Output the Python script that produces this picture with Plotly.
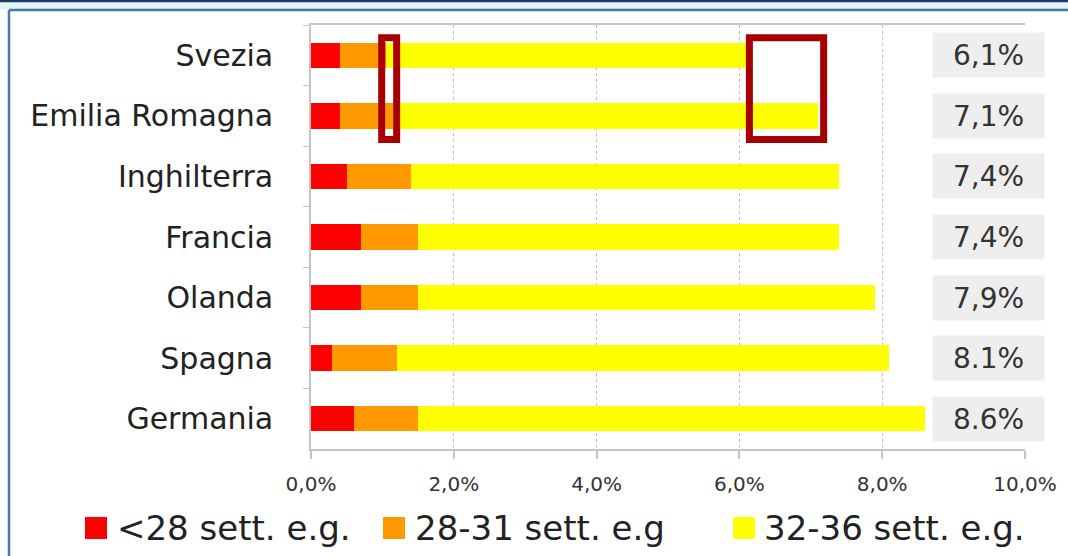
import plotly.graph_objects as go

# Preterm births by gestational age band (% of live births)
countries = ["Svezia", "Emilia Romagna", "Inghilterra", "Francia", "Olanda", "Spagna", "Germania"]
under_28 = [0.4, 0.4, 0.5, 0.7, 0.7, 0.3, 0.6]
weeks_28_31 = [0.65, 0.75, 0.9, 0.8, 0.8, 0.9, 0.9]
totals = [6.1, 7.1, 7.4, 7.4, 7.9, 8.1, 8.6]
total_labels = ["6,1%", "7,1%", "7,4%", "7,4%", "7,9%", "8.1%", "8.6%"]
weeks_32_36 = [round(t - a - b, 2) for t, a, b in zip(totals, under_28, weeks_28_31)]

series_names = ["<28 sett. e.g.", "28-31 sett. e.g", "32-36 sett. e.g."]
series_colors = ["#ff0000", "#ff9900", "#ffff00"]
series_values = [under_28, weeks_28_31, weeks_32_36]

x_tickvals = [0, 2, 4, 6, 8, 10]
x_ticktext = ["0,0%", "2,0%", "4,0%", "6,0%", "8,0%", "10,0%"]

FONT = "DejaVu Sans"
W, H = 1068, 556
PLOT_L, PLOT_R, PLOT_T, PLOT_B = 311, 1025, 25, 449


def px_x(p):
    return (p - PLOT_L) / (PLOT_R - PLOT_L)


def px_y(p):
    return (PLOT_B - p) / (PLOT_B - PLOT_T)


fig = go.Figure()
for name, color, vals in zip(series_names, series_colors, series_values):
    fig.add_trace(go.Bar(
        y=countries, x=vals, name=name, orientation="h",
        marker=dict(color=color, line=dict(width=0)),
        width=0.42, showlegend=False, hoverinfo="x+y",
    ))

shapes = []
annotations = []

# page frame: dark top rule, pale strip and blue inner border
shapes.append(dict(type="rect", xref="paper", yref="paper",
                   x0=px_x(0), x1=px_x(W), y0=px_y(2.5), y1=px_y(0),
                   fillcolor="#1d3b63", line=dict(width=0), layer="above"))
shapes.append(dict(type="rect", xref="paper", yref="paper",
                   x0=px_x(0), x1=px_x(W), y0=px_y(9), y1=px_y(2.5),
                   fillcolor="#e2f4f9", line=dict(width=0), layer="above"))
shapes.append(dict(type="line", xref="paper", yref="paper",
                   x0=px_x(9), x1=px_x(W), y0=px_y(10), y1=px_y(10),
                   line=dict(color="#4a78a6", width=2.5), layer="above"))
shapes.append(dict(type="line", xref="paper", yref="paper",
                   x0=px_x(9), x1=px_x(9), y0=px_y(10), y1=px_y(H),
                   line=dict(color="#4a78a6", width=2.5), layer="above"))

# highlight boxes around Svezia / Emilia Romagna
box_line = dict(color="#a80000", width=7)
shapes.append(dict(type="rect", xref="x", yref="y", x0=0.99, x1=1.2,
                   y0=-0.29, y1=1.39, line=box_line, layer="above"))
shapes.append(dict(type="rect", xref="x", yref="y", x0=6.14, x1=7.18,
                   y0=-0.29, y1=1.39, line=box_line, layer="above"))

# total labels on grey tiles
for c, lab in zip(countries, total_labels):
    annotations.append(dict(
        x=px_x(988), xref="paper", y=c, yref="y", text=lab, showarrow=False,
        xanchor="center", yanchor="middle",
        font=dict(family=FONT, size=28, color="#333333"),
        bgcolor="#eeeeee", width=111, height=44, borderpad=0,
    ))

# legend row
legend_square_x = [85, 383, 733]
legend_text_x = [115, 413, 762]
legend_cy = 528
for name, color, sx, tx in zip(series_names, series_colors, legend_square_x, legend_text_x):
    shapes.append(dict(type="rect", xref="paper", yref="paper",
                       x0=px_x(sx), x1=px_x(sx + 22),
                       y0=px_y(legend_cy + 11), y1=px_y(legend_cy - 11),
                       fillcolor=color, line=dict(width=0)))
    annotations.append(dict(
        x=px_x(tx), xref="paper", y=px_y(legend_cy), yref="paper", text=name,
        showarrow=False, xanchor="left", yanchor="middle",
        font=dict(family=FONT, size=34, color="#222222"),
    ))

fig.update_layout(
    width=W, height=H,
    margin=dict(l=PLOT_L, r=W - PLOT_R, t=PLOT_T, b=H - PLOT_B, pad=0),
    barmode="stack", bargap=0.58,
    paper_bgcolor="white", plot_bgcolor="white",
    shapes=shapes, annotations=annotations,
    showlegend=False,
    font=dict(family=FONT, color="#222222"),
)
fig.update_xaxes(
    range=[0, 10], tickvals=x_tickvals, ticktext=x_ticktext,
    showgrid=True, gridcolor="#bdbdbd", griddash="dot", gridwidth=1,
    showline=True, linecolor="#c4c4c4", linewidth=2, mirror=True,
    ticks="outside", ticklen=8, tickcolor="#c4c4c4", tickwidth=1.5,
    ticklabelstandoff=8,
    tickfont=dict(family=FONT, size=20, color="#333333"), zeroline=False,
)
fig.update_yaxes(
    type="category", categoryorder="array", categoryarray=countries,
    range=[len(countries) - 0.5, -0.5],
    showline=True, linecolor="#c4c4c4", linewidth=1.5,
    ticks="outside", tickson="boundaries", ticklen=6, tickcolor="#c4c4c4",
    ticklabelstandoff=30, showgrid=False,
    tickfont=dict(family=FONT, size=30, color="#222222"),
)

fig.write_html("out.html")
